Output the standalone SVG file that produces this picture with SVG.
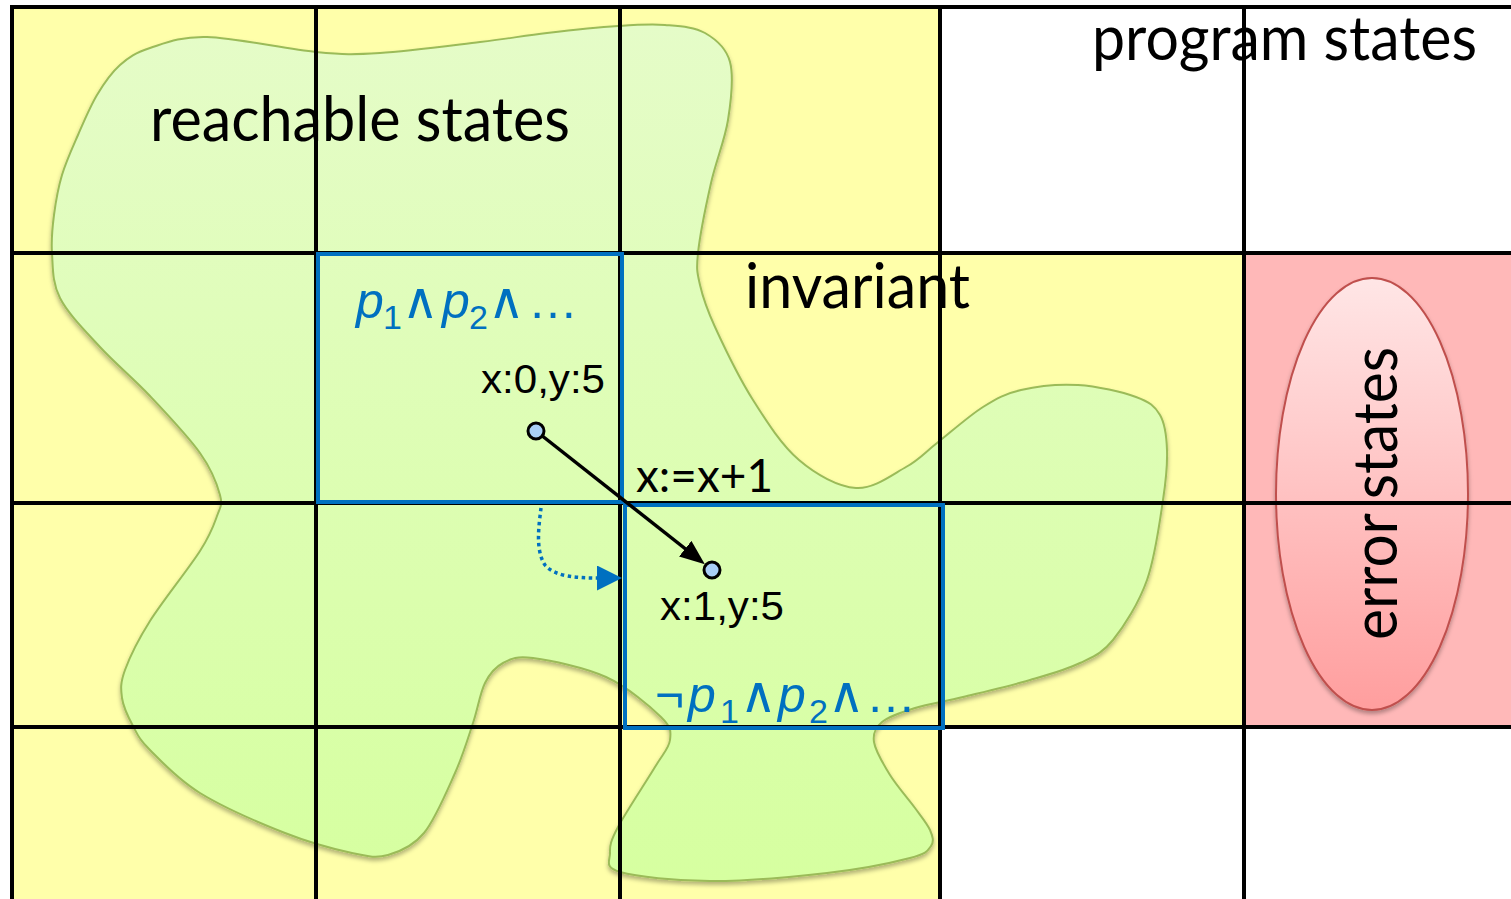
<svg xmlns="http://www.w3.org/2000/svg" width="1511" height="899" viewBox="0 0 1511 899">
<style>
.grid{stroke:#000;stroke-width:4;fill:none}
.box{fill:none;stroke:#0070c0;stroke-width:4}
.cal{font-family:Lato,"Open Sans","Liberation Sans",sans-serif;fill:#000}
.ari{font-family:"Liberation Sans",Arial,sans-serif;fill:#000}
.frm{font-family:"Liberation Sans","DejaVu Sans",sans-serif;fill:#0070c0;font-size:50px}
.frm .i{font-style:italic}
.frm .s{font-size:34px}
.st{fill:#a9cff7;stroke:#000;stroke-width:3}
</style>
<defs>
<linearGradient id="gb" x1="0" y1="0" x2="0" y2="1">
<stop offset="0" stop-color="#e5fcc8"/>
<stop offset="1" stop-color="#d6ffa0"/>
</linearGradient>
<linearGradient id="ge" x1="0" y1="0" x2="0" y2="1">
<stop offset="0" stop-color="#ffe6e6"/>
<stop offset="1" stop-color="#ff9e9e"/>
</linearGradient>
<filter id="sh" x="-10%" y="-10%" width="120%" height="120%">
<feDropShadow dx="0" dy="3" stdDeviation="2" flood-color="#000" flood-opacity="0.3"/>
</filter>
<marker id="ah" markerUnits="userSpaceOnUse" markerWidth="26" markerHeight="22" refX="15" refY="10" orient="auto">
<path d="M0,0 L25,10 L0,20 Z" fill="#000"/>
</marker>
<marker id="bh" markerUnits="userSpaceOnUse" markerWidth="26" markerHeight="26" refX="1" refY="12.5" orient="auto">
<path d="M0,0 L25,12.5 L0,25 Z" fill="#0070c0"/>
</marker>
</defs>

<g id="background">
<rect x="0" y="0" width="1511" height="899" fill="#fff"/>
<rect x="12" y="7" width="928" height="892" fill="#ffffaa"/>
<rect x="940" y="253" width="304" height="474" fill="#ffffaa"/>
<rect x="1244" y="253" width="267" height="474" fill="#ffb8b8"/>
</g>

<g id="reachable-states">
<path filter="url(#sh)" fill="url(#gb)" stroke="#9bbb59" stroke-width="2" d="M52,253 C51,239.2 52.3,228 54,215 S58,188.3 62,175 S72.2,148.3 78,135 S90,106.7 97,95 S111.2,72.8 120,65 S135.5,52.7 150,48 S179.3,36.3 207,37 S287.2,49.3 316,52 S352.7,54.7 380,53 S452.2,45.3 480,42 S524,35.7 547,33 S598.3,27.3 618,26 S650.5,23.8 665,25 S694.2,26.8 705,33 S726.2,47.5 730,62 S731.2,99.8 728,120 S716,160.8 711,183 S699.8,236 698,253 S697.2,272.7 700,285 S706.2,307.8 715,327 S739,377.8 753,400 S781.8,445.3 799,460 S838.2,486.8 856,488 S892.5,474.5 906,467 S924.2,453 937,443 S969,415.8 983,407 S1005.2,393.7 1021,390 S1058.8,383.8 1078,385 S1122.3,392 1136,397 S1154.8,406.2 1160,415 S1166.5,435.8 1167,450 S1166.3,478.3 1163,500 S1155.3,556.7 1147,580 S1124.2,626.2 1113,640 S1093.8,656.3 1080,663 S1049.5,674.3 1030,680 S982.2,692.3 963,697 S928.5,703.8 915,708 S888.8,716.3 882,722 S872.7,733.2 874,742 S883.2,764 890,775 S908.3,798.8 915,808 S927.3,823.7 930,830 S934.3,841.3 931,846 S927.3,853.5 910,858 S860.3,869.2 827,873 S744.5,881.2 710,881 S636.7,876.7 620,872 S610.3,860.5 610,853 S610.5,841.3 618,827 S646.3,781.5 655,767 S669,748.3 670,740 S671.7,727.5 661,717 S627.3,686.8 606,677 S550.2,660.3 533,658 S511,658.8 503,663 S490,673 485,683 S478,708 473,723 S463.2,754.7 455,773 S435.2,819.3 424,833 S400,851.7 388,855 S369.2,856.7 352,853 S310.3,843 285,833 S222.5,806.8 200,793 S161.2,761.2 150,750 S137.7,734.7 133,726 S123.3,707.3 122,698 S120.3,682.8 125,670 S137.5,640.8 150,621 S188.8,568.5 200,551 S213.7,525.3 217,516 S222.8,505.5 220,495 S211.7,469.5 200,453 S166.7,413.7 150,396 S115,363.3 100,347 S68,313.7 60,298 S53,266.8 52,253 Z"/>
</g>

<g id="error-states-shape">
<ellipse cx="1372" cy="494" rx="96" ry="216" fill="url(#ge)" stroke="#c0504d" stroke-width="2" filter="url(#sh)"/>
</g>

<g id="grid">
<line class="grid" x1="12" y1="5" x2="12" y2="899"/>
<line class="grid" x1="316" y1="5" x2="316" y2="899"/>
<line class="grid" x1="620" y1="5" x2="620" y2="899"/>
<line class="grid" x1="940" y1="5" x2="940" y2="899"/>
<line class="grid" x1="1244" y1="5" x2="1244" y2="899"/>
<line class="grid" x1="10" y1="7" x2="1511" y2="7"/>
<line class="grid" x1="10" y1="253" x2="1511" y2="253"/>
<line class="grid" x1="10" y1="503" x2="1511" y2="503"/>
<line class="grid" x1="10" y1="727" x2="1511" y2="727"/>
</g>

<g id="box-p1-p2">
<rect class="box" x="318" y="254" width="304" height="248"/>
<text class="frm" y="318"><tspan class="i" x="356">p</tspan><tspan class="s" x="383" y="329">1</tspan><tspan x="402" y="318">∧</tspan><tspan class="i" x="442">p</tspan><tspan class="s" x="469" y="329">2</tspan><tspan x="488" y="318">∧</tspan><tspan x="528">…</tspan></text>
</g>

<g id="box-not-p1-p2">
<rect class="box" x="625" y="505" width="318" height="223"/>
<text class="frm" y="712"><tspan x="655">¬</tspan><tspan class="i" x="688">p</tspan><tspan class="s" x="720" y="723">1</tspan><tspan x="740" y="712">∧</tspan><tspan class="i" x="778">p</tspan><tspan class="s" x="809" y="723">2</tspan><tspan x="828" y="712">∧</tspan><tspan x="866">…</tspan></text>
</g>

<g id="labels">
<text class="cal" x="150" y="141" font-size="62" textLength="420" lengthAdjust="spacingAndGlyphs">reachable states</text>
<text class="cal" x="1092" y="60" font-size="62" textLength="385" lengthAdjust="spacingAndGlyphs">program states</text>
<text class="cal" x="745" y="308" font-size="62" textLength="225" lengthAdjust="spacingAndGlyphs">invariant</text>
<text class="cal" transform="translate(1397,640) rotate(-90)" x="0" y="0" font-size="62" textLength="293" lengthAdjust="spacingAndGlyphs">error states</text>
</g>

<g id="connectors">
<line x1="536" y1="431" x2="697" y2="558" stroke="#000" stroke-width="3.5" marker-end="url(#ah)"/>
<text class="cal" x="636" y="492" font-size="46" textLength="137" lengthAdjust="spacingAndGlyphs">x:=x+1</text>
<path d="M541,508 C539,525 535,550 545,565 C555,577 578,578 598,578" fill="none" stroke="#0070c0" stroke-width="3.5" stroke-dasharray="3.5 3.5" marker-end="url(#bh)"/>
</g>

<g id="state-x0-y5">
<circle class="st" cx="536" cy="431" r="8"/>
<text class="ari" x="481" y="393" font-size="40" textLength="124" lengthAdjust="spacingAndGlyphs">x:0,y:5</text>
</g>

<g id="state-x1-y5">
<circle class="st" cx="712" cy="570" r="8"/>
<text class="ari" x="660" y="620" font-size="40" textLength="124" lengthAdjust="spacingAndGlyphs">x:1,y:5</text>
</g>
</svg>
